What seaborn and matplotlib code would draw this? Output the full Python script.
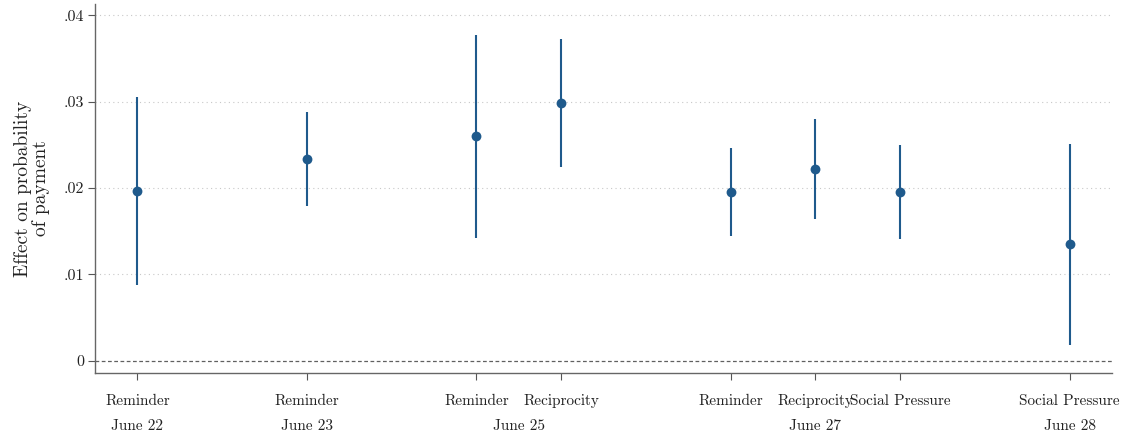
import matplotlib
matplotlib.use("Agg")
import matplotlib.pyplot as plt
import matplotlib.transforms as mtransforms
import seaborn as sns
import pandas as pd
import numpy as np

# ---- data ----
days = ["June 22", "June 23", "June 25", "June 25", "June 27", "June 27", "June 27", "June 28"]
treatments = ["Reminder", "Reminder", "Reminder", "Reciprocity",
              "Reminder", "Reciprocity", "Social Pressure", "Social Pressure"]
estimates = [0.0197, 0.0234, 0.0260, 0.0298, 0.0196, 0.0222, 0.0196, 0.0135]
ci_low = [0.0088, 0.0179, 0.0142, 0.0224, 0.0145, 0.0164, 0.0141, 0.0018]
ci_high = [0.0305, 0.0288, 0.0377, 0.0372, 0.0246, 0.0280, 0.0250, 0.0251]
yticks = [0, 0.01, 0.02, 0.03, 0.04]
ytick_labels = ["0", ".01", ".02", ".03", ".04"]

# positions: consecutive within a day, one empty slot between days
pos = []
p = -1
prev = None
for d in days:
    p += 1 if d == prev or prev is None else 2
    pos.append(p)
    prev = d

df = pd.DataFrame({"pos": pos, "day": days, "treat": treatments,
                   "est": estimates, "lo": ci_low, "hi": ci_high})

sns.set_theme(style="white")
plt.rcParams["font.family"] = ["cmr10", "DejaVu Serif"]
plt.rcParams["axes.formatter.use_mathtext"] = True

color = "#1f5a8c"
fig = plt.figure(figsize=(11.29, 4.34), dpi=100)
ax = fig.add_axes([95 / 1129, 1 - 373 / 434, (1112 - 95) / 1129, (373 - 4) / 434])

# grid
for yv in yticks[1:]:
    ax.axhline(yv, color="#c8c8c8", lw=0.8, ls=(0, (1, 3)), zorder=0)
ax.axhline(0, color="#606060", lw=0.9, ls=(0, (3, 2)), zorder=0)

ax.vlines(df["pos"], df["lo"], df["hi"], color=color, lw=1.5, zorder=2)
sns.scatterplot(data=df, x="pos", y="est", ax=ax, color=color, s=50,
                edgecolor=color, linewidth=0, zorder=3, legend=False)

ax.set_xlim(min(pos) - 0.5, max(pos) + 0.5)
ax.set_ylim(-0.0014, 0.0413)
ax.set_yticks(yticks)
ax.set_yticklabels(ytick_labels)
ax.set_xticks(pos)
ax.set_xticklabels(treatments)
ax.tick_params(axis="both", direction="out", length=5, width=0.8, color="#555555",
               labelsize=11, labelcolor="#222222", left=True, bottom=True)
ax.tick_params(axis="x", pad=10)
ax.tick_params(axis="y", pad=3, labelsize=11.5)

for s in ["top", "right"]:
    ax.spines[s].set_visible(False)
for s in ["left", "bottom"]:
    ax.spines[s].set_color("#666666")
    ax.spines[s].set_linewidth(1.0)

ax.set_xlabel("")
ax.set_ylabel("Effect on probability\nof payment", fontsize=14, color="#222222",
              linespacing=0.95, labelpad=10)

# day labels (second row)
trans = mtransforms.blended_transform_factory(ax.transData, ax.transAxes)
for d in dict.fromkeys(days):
    xs = df.loc[df["day"] == d, "pos"]
    ax.text(xs.mean(), -0.145, d, transform=trans, ha="center", va="center",
            fontsize=11, color="#222222")

fig.savefig("out.png", dpi=100)
